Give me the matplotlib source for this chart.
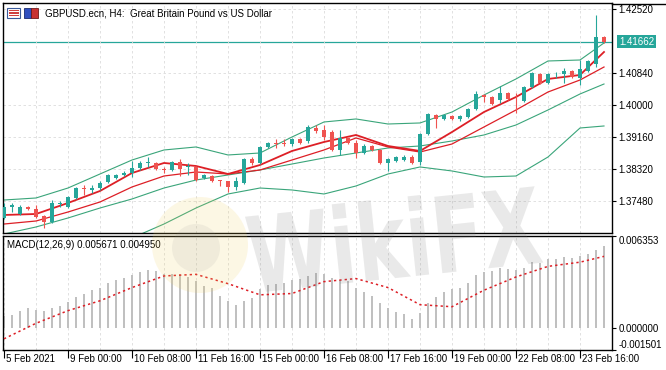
import numpy as np
import matplotlib
matplotlib.use('Agg')
import matplotlib.pyplot as plt
from matplotlib.patches import Rectangle, Circle, PathPatch
from matplotlib.textpath import TextPath
from matplotlib.font_manager import FontProperties
from matplotlib.transforms import Affine2D, IdentityTransform, offset_copy, blended_transform_factory

plt.rcParams['font.family'] = ['Liberation Sans', 'DejaVu Sans']

# --- data (GBPUSD H4, 5 Feb 16:00 .. 24 Feb 04:00) ---
open_ = [1.37034, 1.37323, 1.37139, 1.37323, 1.37270, 1.37086, 1.36929, 1.37401, 1.37323, 1.37559,
         1.37821, 1.37769, 1.37821, 1.37979, 1.38084, 1.38163, 1.38215, 1.38346, 1.38478, 1.38478,
         1.38320, 1.38294, 1.38504, 1.38373, 1.38373, 1.38084, 1.38136, 1.38031, 1.38005, 1.37848,
         1.37953, 1.38583, 1.38478, 1.38898, 1.39003, 1.39003, 1.38976, 1.39108, 1.39055, 1.39396,
         1.39344, 1.39291, 1.38819, 1.39134, 1.39003, 1.38740, 1.38924, 1.38819, 1.38478, 1.38530,
         1.38556, 1.38635, 1.38504, 1.39239, 1.39738, 1.39633, 1.39711, 1.39633, 1.39685, 1.39895,
         1.40262, 1.40210, 1.40131, 1.40315, 1.40131, 1.40105, 1.40473, 1.40814, 1.40578, 1.40801,
         1.40814, 1.40892, 1.40709, 1.40892, 1.41076, 1.41785]
high = [1.37428, 1.37428, 1.37375, 1.37349, 1.37375, 1.37113, 1.37506, 1.37480, 1.37611, 1.37848,
        1.37900, 1.37900, 1.38005, 1.38189, 1.38189, 1.38268, 1.38530, 1.38530, 1.38635, 1.38504,
        1.38373, 1.38530, 1.38583, 1.38478, 1.38399, 1.38189, 1.38163, 1.38031, 1.38005, 1.38110,
        1.38609, 1.38635, 1.38924, 1.39029, 1.39108, 1.39108, 1.39134, 1.39134, 1.39475, 1.39475,
        1.39475, 1.39344, 1.39344, 1.39134, 1.39081, 1.38976, 1.38950, 1.38845, 1.38609, 1.38661,
        1.38688, 1.38688, 1.39265, 1.39790, 1.39764, 1.39764, 1.39738, 1.39738, 1.39921, 1.40368,
        1.40289, 1.40236, 1.40499, 1.40341, 1.40315, 1.40499, 1.40866, 1.40840, 1.40840, 1.40866,
        1.40971, 1.40919, 1.41181, 1.41181, 1.42363, 1.41811]
low = [1.37008, 1.37191, 1.37113, 1.37244, 1.37034, 1.36771, 1.36903, 1.37323, 1.37296, 1.37533,
       1.37638, 1.37690, 1.37769, 1.37953, 1.38058, 1.38136, 1.38110, 1.38294, 1.38373, 1.38294,
       1.38215, 1.38268, 1.38136, 1.38163, 1.38005, 1.38058, 1.37979, 1.37874, 1.37716, 1.37769,
       1.37926, 1.38425, 1.38451, 1.38871, 1.38871, 1.38924, 1.38924, 1.38976, 1.39003, 1.39265,
       1.39081, 1.38793, 1.38688, 1.38976, 1.38609, 1.38714, 1.38793, 1.38451, 1.38268, 1.38504,
       1.38530, 1.38451, 1.38425, 1.39213, 1.39396, 1.39606, 1.39606, 1.39580, 1.39659, 1.39869,
       1.40079, 1.40000, 1.40052, 1.40131, 1.39790, 1.40079, 1.40446, 1.40551, 1.40551, 1.40709,
       1.40578, 1.40709, 1.40525, 1.40866, 1.40997, 1.41628]
close = [1.37323, 1.37375, 1.37323, 1.37270, 1.37060, 1.36929, 1.37428, 1.37428, 1.37585, 1.37821,
         1.37795, 1.37821, 1.37953, 1.38163, 1.38163, 1.38215, 1.38346, 1.38478, 1.38504, 1.38320,
         1.38294, 1.38504, 1.38320, 1.38399, 1.38031, 1.38163, 1.38005, 1.38005, 1.37848, 1.38005,
         1.38583, 1.38478, 1.38898, 1.39003, 1.38976, 1.38976, 1.39108, 1.39003, 1.39423, 1.39318,
         1.39160, 1.38819, 1.39134, 1.39003, 1.38740, 1.38924, 1.38819, 1.38478, 1.38583, 1.38635,
         1.38635, 1.38478, 1.39239, 1.39764, 1.39633, 1.39738, 1.39633, 1.39711, 1.39895, 1.40289,
         1.40210, 1.40026, 1.40315, 1.40157, 1.40118, 1.40473, 1.40840, 1.40578, 1.40814, 1.40814,
         1.40892, 1.40735, 1.40945, 1.41155, 1.41785, 1.41662]

# indicator lines, read every 4th bar
line_idx = [0, 4, 8, 12, 16, 20, 24, 28, 32, 36, 40, 44, 48, 52, 56, 60, 64, 68, 72, 75]
bb_upper = [1.37506, 1.37559, 1.37821, 1.38189, 1.38556, 1.38819, 1.38898, 1.38688, 1.38740, 1.39160,
            1.39554, 1.39633, 1.39501, 1.39528, 1.39816, 1.40262, 1.40683, 1.41155, 1.41181, 1.41628]
bb_mid = [1.36614, 1.36798, 1.37034, 1.37296, 1.37533, 1.37821, 1.38031, 1.38163, 1.38294, 1.38451,
          1.38609, 1.38740, 1.38871, 1.38924, 1.39055, 1.39213, 1.39475, 1.39869, 1.40289, 1.40551]
bb_lower = [np.nan, np.nan, np.nan, np.nan, 1.36509, 1.36876, 1.37296, 1.37664, 1.37821, 1.37769,
            1.37664, 1.37874, 1.38189, 1.38373, 1.38268, 1.38110, 1.38136, 1.38635, 1.39396, 1.39449]
ma_fast = [1.37113, 1.37139, 1.37428, 1.37743, 1.38215, 1.38478, 1.38399, 1.38189, 1.38425, 1.38793,
           1.39029, 1.39213, 1.38924, 1.38793, 1.39291, 1.39816, 1.40210, 1.40683, 1.40788, 1.41391]
ma_slow = [1.36876, 1.36955, 1.37191, 1.37454, 1.37848, 1.38136, 1.38241, 1.38189, 1.38294, 1.38556,
           1.38819, 1.39134, 1.38898, 1.38766, 1.38976, 1.39423, 1.39869, 1.40341, 1.40656, 1.40997]

macd_hist = [0.00085, 0.00093, 0.00121, 0.00139, 0.00125, 0.00116, 0.00139, 0.00155, 0.00184, 0.00216,
             0.00235, 0.00264, 0.00280, 0.00314, 0.00330, 0.00348, 0.00367, 0.00389, 0.00398, 0.00394,
             0.00376, 0.00371, 0.00371, 0.00353, 0.00326, 0.00291, 0.00276, 0.00223, 0.00189, 0.00162,
             0.00189, 0.00207, 0.00269, 0.00298, 0.00307, 0.00314, 0.00330, 0.00337, 0.00360, 0.00383,
             0.00371, 0.00348, 0.00330, 0.00326, 0.00280, 0.00250, 0.00223, 0.00171, 0.00137, 0.00109,
             0.00098, 0.00064, 0.00102, 0.00171, 0.00212, 0.00250, 0.00273, 0.00276, 0.00314, 0.00364,
             0.00389, 0.00394, 0.00417, 0.00405, 0.00398, 0.00417, 0.00455, 0.00451, 0.00478, 0.00474,
             0.00490, 0.00485, 0.00496, 0.00508, 0.00542, 0.005671]
macd_signal = [-0.00073, 0.00034, 0.00121, 0.00189, 0.00280, 0.00360, 0.00371, 0.00307, 0.00230, 0.00239,
               0.00321, 0.00342, 0.00280, 0.00162, 0.00148, 0.00262, 0.00353, 0.00426, 0.00455, 0.00495]

price_ticks = [1.37480, 1.38320, 1.39160, 1.40000, 1.40840, 1.42520]
macd_ticks = [-0.001501, 0.0, 0.006353]
macd_tick_labels = ['-0.001501', '0.000000', '0.006353']
date_pos = [0, 8, 16, 24, 32, 40, 48, 56, 64, 72]
date_labels = ['5 Feb 2021', '9 Feb 00:00', '10 Feb 08:00', '11 Feb 16:00', '15 Feb 00:00',
               '16 Feb 08:00', '17 Feb 16:00', '19 Feb 00:00', '22 Feb 08:00', '23 Feb 16:00']
last_price = 1.41662

# --- styling ---
BULL = '#26a69a'
BEAR = '#ef5350'
BAND = '#3aa57a'
MA_RED = '#dd1f26'
GRID = '#dcdcdc'

W, H = 666, 370
def fx(px):
    return px / W
def fy(py):
    return 1 - py / H

fig = plt.figure(figsize=(6.66, 3.70), dpi=100)
fig.patch.set_facecolor('white')

ax = fig.add_axes([fx(3), fy(233), fx(612) - fx(3), fy(3) - fy(233)])
ax2 = fig.add_axes([fx(3), fy(350), fx(612) - fx(3), fy(236) - fy(350)])

x = np.arange(len(close))
o = np.array(open_); c = np.array(close)
colors = [BULL if cc >= oo else BEAR for oo, cc in zip(o, c)]
body_bottom = np.minimum(o, c)
body_h = np.maximum(np.abs(c - o), 0.00004)

# --- main price panel ---
ax.vlines(x, low, high, colors=colors, lw=0.8, zorder=3)
ax.bar(x, body_h, bottom=body_bottom, width=0.62, color=colors, lw=0, zorder=4)

ax.plot(line_idx, bb_upper, color=BAND, lw=0.8, zorder=2)
ax.plot(line_idx, bb_mid, color=BAND, lw=0.8, zorder=2)
ax.plot(line_idx, bb_lower, color=BAND, lw=0.8, zorder=2)
ax.plot(line_idx, ma_fast, color=MA_RED, lw=1.3, zorder=2)
ax.plot(line_idx, ma_slow, color=MA_RED, lw=0.9, zorder=2)
ax.axhline(last_price, color=BULL, lw=0.9, zorder=1)

ax.set_xlim(-0.125, 76)
ax.set_ylim(1.3664, 1.42677)
ax.set_xticks(np.arange(4, 76, 4))
ax.tick_params(axis='x', length=0, labelbottom=False)
ax.yaxis.tick_right()
ax.set_yticks(price_ticks)
ax.set_yticklabels([f'{v:.5f}' for v in price_ticks])
ax.tick_params(axis='y', length=3, width=0.8, pad=1.5, labelsize=7)
ax.grid(True, color=GRID, lw=0.6, ls=(0, (3, 3)), zorder=0)
for s in ax.spines.values():
    s.set_color('black'); s.set_linewidth(1)

ax.annotate(f'{last_price:.5f}', xy=(1.0, last_price), xycoords=('axes fraction', 'data'),
            xytext=(5, 0), textcoords='offset points', va='center', ha='left',
            fontsize=7, color='white', annotation_clip=False,
            bbox=dict(boxstyle='square,pad=0.18', fc=BULL, ec='none'))

# --- MACD panel ---
ax2.bar(x, macd_hist, width=0.22, color='#c0c0c0', lw=0, zorder=2)
ax2.plot(line_idx, macd_signal, color=MA_RED, lw=1.1, ls=(0, (1.5, 2)), zorder=3)
ax2.set_xlim(-0.125, 76)
ax2.set_ylim(-0.001501, 0.006353)
ax2.set_xticks(date_pos)
ax2.set_xticks(np.arange(4, 76, 8), minor=True)
ax2.tick_params(axis='x', which='major', length=5.8, width=0.8, direction='out', labelbottom=False)
ax2.tick_params(axis='x', which='minor', length=0)
ax2.grid(True, axis='x', which='both', color=GRID, lw=0.6, ls=(0, (3, 3)), zorder=0)
ax2.yaxis.tick_right()
ax2.set_yticks(macd_ticks)
ax2.set_yticklabels(macd_tick_labels)
ax2.tick_params(axis='y', length=3, width=0.8, pad=1.5, labelsize=7)
ylabs = ax2.get_yticklabels()
ylabs[0].set_va('bottom')
ylabs[2].set_va('top')
for s in ax2.spines.values():
    s.set_color('black'); s.set_linewidth(1)

ax2.text(4 / 609, 0.921, 'MACD(12,26,9) 0.005671 0.004950', transform=ax2.transAxes,
         fontsize=7, va='center', ha='left')

date_tr = offset_copy(blended_transform_factory(ax2.transData, ax2.transAxes), fig=fig,
                      x=2, y=-3.5, units='dots')
for xi, lab in zip(date_pos, date_labels):
    ax2.text(xi, 0, lab, transform=date_tr, fontsize=7, ha='left', va='top', clip_on=False)

# --- header line, title and icons ---
fig.add_artist(plt.Line2D([fx(612), 1], [fy(3.5), fy(3.5)], color='black', lw=1))
fig.text(fx(45), fy(14), 'GBPUSD.ecn, H4:  Great Britain Pound vs US Dollar', fontsize=7,
         va='center', ha='left')

def px_rect(x0, y0, x1, y1, **kw):
    return Rectangle((fx(x0), fy(y1)), fx(x1) - fx(x0), fy(y0) - fy(y1),
                     transform=fig.transFigure, **kw)

fig.add_artist(px_rect(7, 8, 20, 18, fc='white', ec='#3a5a9a', lw=0.8))
for yy in (10.5, 13, 15.5):
    fig.add_artist(px_rect(9, yy - 0.6, 18.5, yy + 0.6, fc='#d04040', ec='none'))
fig.add_artist(px_rect(24, 8, 30.5, 18, fc='#2f4fbf', ec='#1a2a70', lw=0.6))
fig.add_artist(px_rect(31, 8, 38, 18, fc='#c83232', ec='#701a1a', lw=0.6))

# --- faint watermark (pixel coordinates) ---
fig.add_artist(Circle((200, H - 245), 48, transform=IdentityTransform(),
                      fc='#f2cf5b', ec='none', alpha=0.16, zorder=10))
fig.add_artist(Circle((196, H - 248), 24, transform=IdentityTransform(),
                      fc='#8a8a8a', ec='none', alpha=0.10, zorder=10))
fp = FontProperties(family='DejaVu Sans', weight='bold')
tp = TextPath((0, 0), 'WikiFX', size=100, prop=fp)
bb = tp.get_extents()
tr = (Affine2D().translate(-bb.x0 - bb.width / 2, -bb.y0 - bb.height / 2)
      .scale(292 / bb.width, 80 / bb.height).rotate_deg(6).translate(394, H - 238))
fig.add_artist(PathPatch(tr.transform_path(tp), transform=IdentityTransform(),
                         fc='#7a7a7a', ec='none', alpha=0.16, zorder=10))

fig.savefig('out.png', dpi=100)
